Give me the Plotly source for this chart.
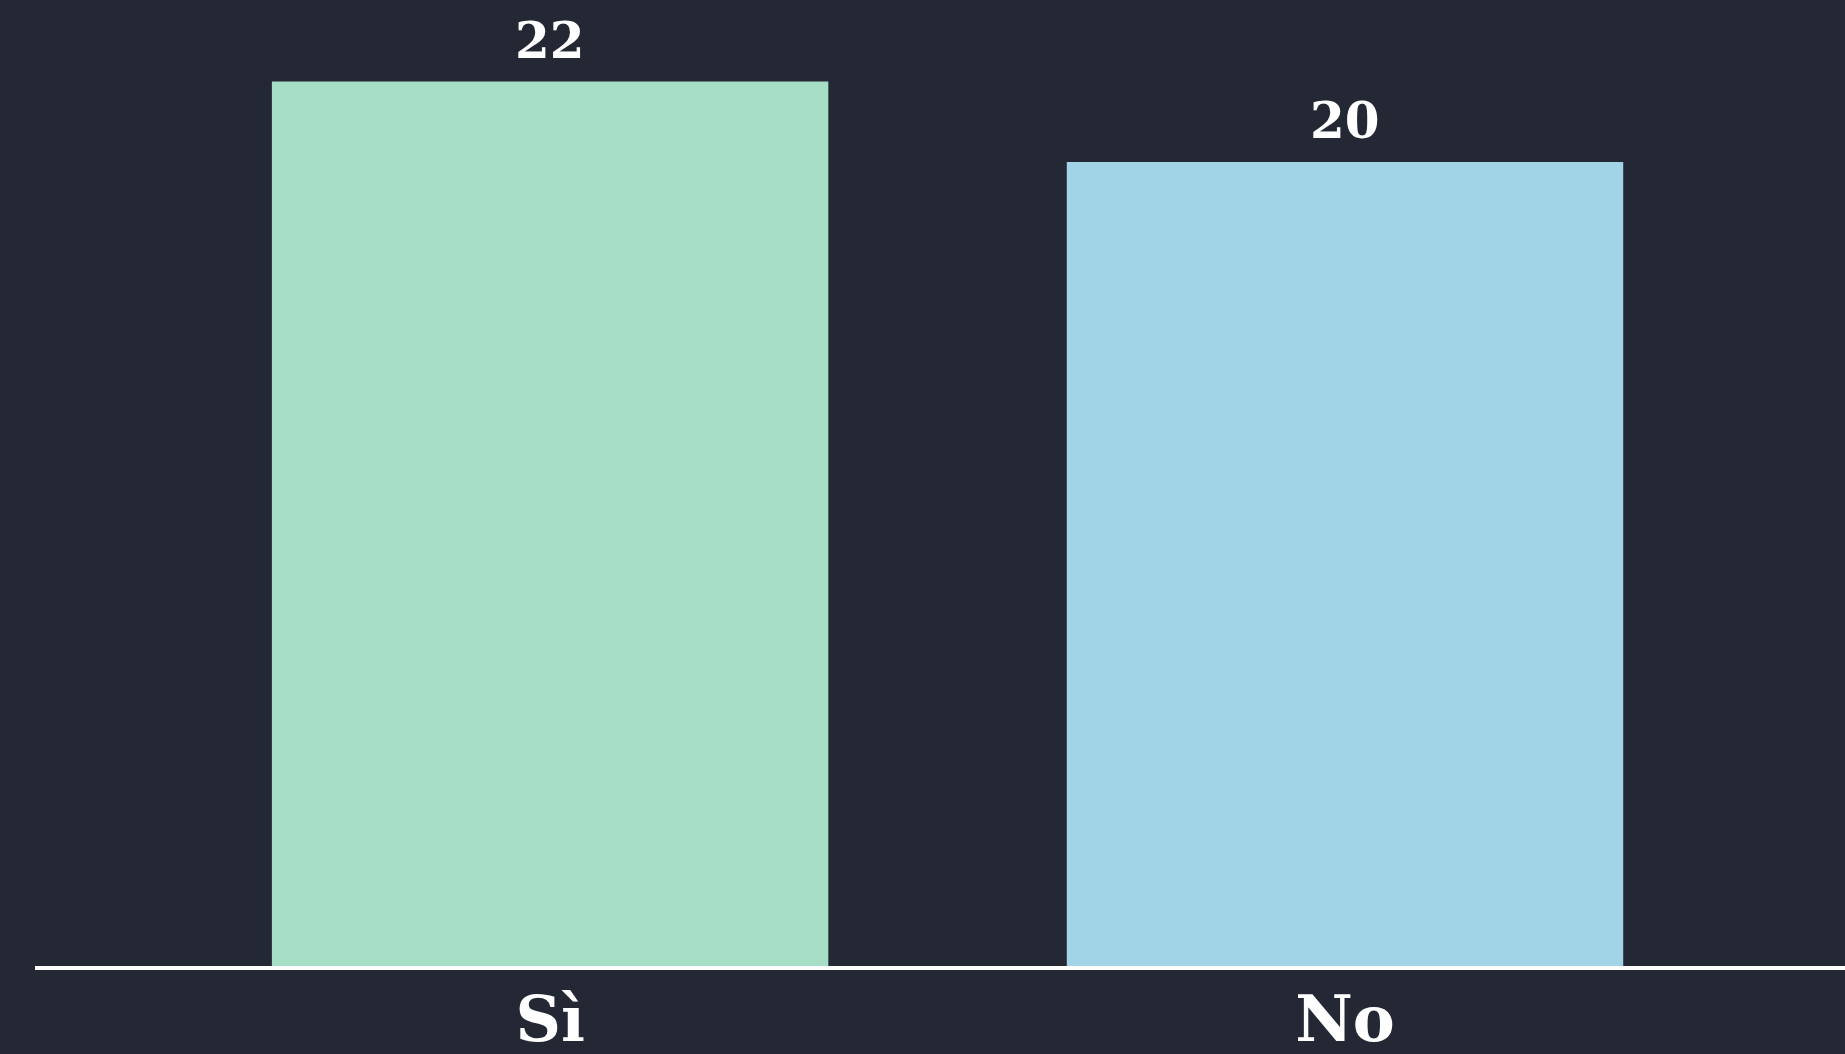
import plotly.graph_objects as go

categories = ["Sì", "No"]
values = [22, 20]
bar_colors = ["#a6dec6", "#a0d4e6"]

BG = "#242734"
FONT = "DejaVu Serif"

fig = go.Figure()
fig.add_trace(go.Bar(
    x=categories,
    y=values,
    marker=dict(color=bar_colors, line=dict(width=0)),
    width=0.7,
    hoverinfo="skip",
))

for c, v in zip(categories, values):
    fig.add_annotation(
        x=c, y=v, text=str(v), showarrow=False,
        yanchor="bottom", yshift=10,
        font=dict(family=FONT, size=50, color="#ffffff", weight="bold"),
    )

fig.update_layout(
    width=1845,
    height=1054,
    paper_bgcolor=BG,
    plot_bgcolor=BG,
    margin=dict(l=35, r=0, t=0, b=88, autoexpand=False),
    showlegend=False,
    bargap=0.3,
    xaxis=dict(
        type="category",
        range=[-0.648, 1.629],
        showline=True,
        linecolor="#ffffff",
        linewidth=4,
        showgrid=False,
        zeroline=False,
        ticks="",
        automargin=False,
        ticklabelstandoff=-5,
        tickfont=dict(family=FONT, size=63, color="#ffffff", weight="bold"),
    ),
    yaxis=dict(
        range=[0, 24.03],
        visible=False,
        showgrid=False,
        zeroline=False,
        automargin=False,
    ),
)

fig.write_html(
    "out.html",
    config={"displayModeBar": False},
    post_script="document.body.style.margin='0';document.body.style.overflow='hidden';",
)
